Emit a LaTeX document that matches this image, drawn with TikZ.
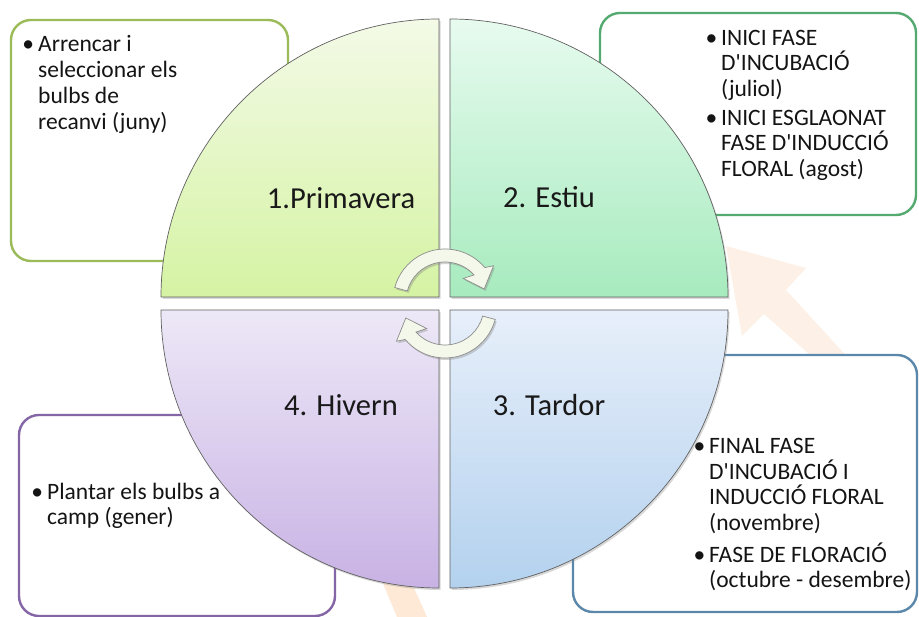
\documentclass[tikz,border=0pt]{standalone}
\usepackage{fontspec}
\setmainfont{Carlito}
\usetikzlibrary{shadows}
\definecolor{tlTop}{HTML}{F3FAE7}
\definecolor{tlBot}{HTML}{D5F3A3}
\definecolor{trTop}{HTML}{E7FBEF}
\definecolor{trBot}{HTML}{A7EBBE}
\definecolor{blTop}{HTML}{EDE8F7}
\definecolor{blBot}{HTML}{C8B2E4}
\definecolor{brTop}{HTML}{E7EFFA}
\definecolor{brBot}{HTML}{B3D1EE}
\definecolor{tlLine}{HTML}{9BBB59}
\definecolor{trLine}{HTML}{55AA72}
\definecolor{brLine}{HTML}{5B88AA}
\definecolor{blLine}{HTML}{8466A6}
\definecolor{peach}{HTML}{FDF1E7}
\definecolor{peachB}{HTML}{FDE9D5}
\definecolor{arrowFill}{HTML}{F3F8EA}
\newcommand{\tallstrut}{\rule{0pt}{21pt}}
\newcommand{\bul}{\llap{\textbullet\hspace{4pt}}}
\begin{document}
\begin{tikzpicture}[x=1pt,y=1pt,
  infobox/.style={line width=2.4pt, fill=white, rounded corners=20pt},
  quad/.style={draw=black!62, line width=0.7pt,
    drop shadow={opacity=0.3, shadow xshift=1.5pt, shadow yshift=-2pt}},
  cyclearrow/.style={fill=arrowFill, draw=black!45, line width=0.7pt,
    drop shadow={opacity=0.35, shadow xshift=1.5pt, shadow yshift=-2pt}},
  seasonlabel/.style={font=\fontsize{30.5}{36}\selectfont, text=black!90, inner sep=0pt, anchor=base},
  boxtext/.style={font=\fontsize{23.5}{25.5}\selectfont, text=black!92, align=left, inner sep=0pt, anchor=north west}]
\useasboundingbox (0,0) rectangle (919,617);
\fill[white] (0,0) rectangle (919,617);

% faint background arrows
\fill[peach] (726,371) -- (806,349) -- (786,327) -- (852,255) -- (818,255) -- (764,303) -- (742,281) -- cycle;
\fill[peachB] (372,60) -- (400,60) -- (427,0) -- (397,0) -- cycle;

% information boxes
\draw[infobox, draw=tlLine] (11,356) rectangle (288,597);
\draw[infobox, draw=trLine] (600,402) rectangle (916,604);
\draw[infobox, draw=brLine] (573,5) rectangle (917,262);
\draw[infobox, draw=blLine] (19,1) rectangle (335,202);

% quadrants
\path[quad, top color=tlTop, bottom color=tlBot] (439,320) -- (161,320) arc[start angle=180, end angle=90, radius=278] -- cycle;
\path[quad, top color=trTop, bottom color=trBot] (450,320) -- (450,598) arc[start angle=90, end angle=0, radius=278] -- cycle;
\path[quad, top color=blTop, bottom color=blBot] (439,307) -- (439,29) arc[start angle=270, end angle=180, radius=278] -- cycle;
\path[quad, top color=brTop, bottom color=brBot] (450,307) -- (728,307) arc[start angle=0, end angle=-90, radius=278] -- cycle;

% central cycle arrows
\begin{scope}[shift={(445,316)}]
  \path[cyclearrow] (165:52) arc[start angle=165, end angle=40, radius=52] -- (36:60) -- (17:41) -- (51:29) -- (42:39) arc[start angle=42, end angle=165, radius=39] -- cycle;
\end{scope}
\begin{scope}[shift={(445,311)}, rotate=180]
  \path[cyclearrow] (165:52) arc[start angle=165, end angle=40, radius=52] -- (36:60) -- (17:41) -- (51:29) -- (42:39) arc[start angle=42, end angle=165, radius=39] -- cycle;
\end{scope}

% season labels
\node[seasonlabel] (q1) at (341,408) {1.Primavera};
\node[seasonlabel] (q2) at (549,409) {2. Estiu};
\node[seasonlabel] (q3) at (549,201) {3. Tardor};
\node[seasonlabel] (q4) at (341,201) {4. Hivern};

% box texts
\node[boxtext, font=\fontsize{23.5}{26}\selectfont] (t1) at (38,586.3) {\bul\tallstrut Arrencar i\\seleccionar els\\bulbs de\\recanvi (juny)};
\node[boxtext] (t2) at (721,593) {\bul\tallstrut INICI FASE\\D\textquotesingle INCUBACIÓ\\(juliol)\\[3.5pt]\bul INICI ESGLAONAT\\FASE D\textquotesingle INDUCCIÓ\\FLORAL (agost)};
\node[boxtext] (t3) at (709,184.5) {\bul\tallstrut FINAL FASE\\D\textquotesingle INCUBACIÓ I\\INDUCCIÓ FLORAL\\(novembre)\\[6.5pt]\bul FASE DE FLORACIÓ\\(octubre - desembre)};
\node[boxtext] (t4) at (47,139) {\bul\tallstrut Plantar els bulbs a\\camp (gener)};
\end{tikzpicture}
\end{document}
